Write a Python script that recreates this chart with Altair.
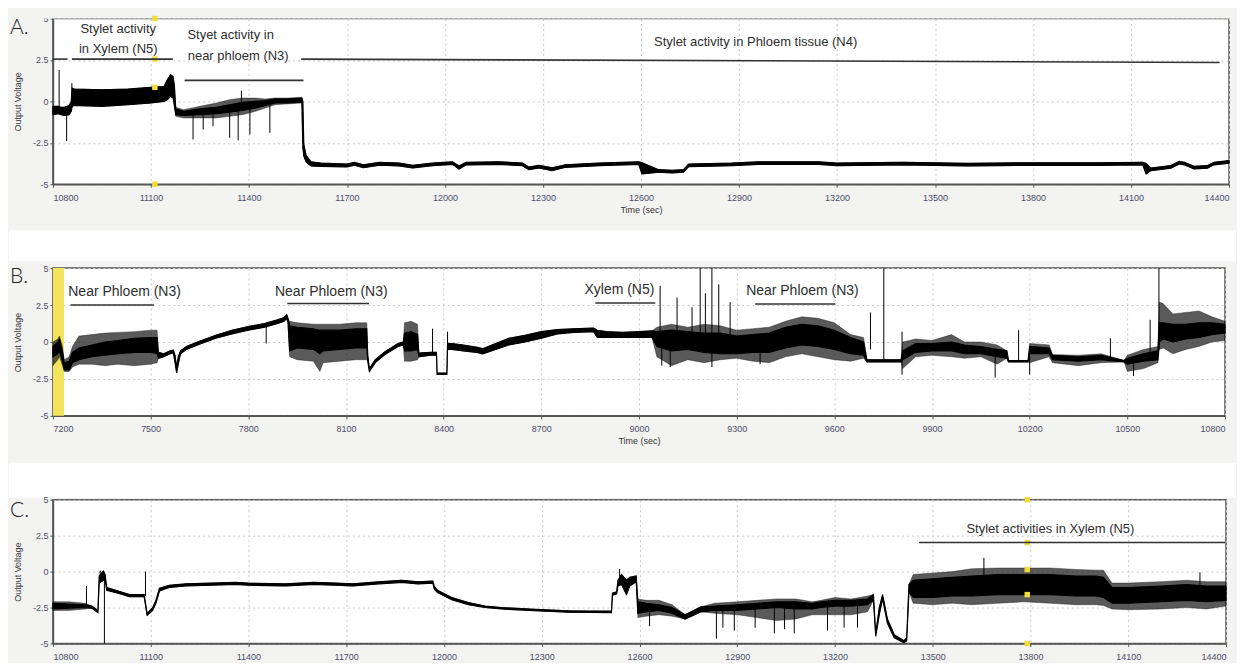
import altair as alt
import pandas as pd

FONT = "Liberation Sans"
BG = "#f3f3f2"

# ---------------- Panel A (10800-14400 s) ----------------
a_t = [10800, 10815, 10825, 10835, 10850, 10856, 10859, 10865, 10950, 11030,
       11100, 11140, 11150, 11160, 11168, 11172, 11176, 11200, 11250, 11300,
       11340, 11380, 11420, 11450, 11480, 11520, 11562, 11565, 11568, 11575,
       11590, 11620, 11700, 11723, 11750, 11800, 11860, 11901, 11962, 12023,
       12043, 12064, 12165, 12237, 12257, 12288, 12328, 12369, 12471, 12593,
       12603, 12654, 12695, 12730, 12746, 12878, 12959, 13143, 13200, 13400,
       13600, 13800, 14000, 14136, 14146, 14161, 14222, 14248, 14263, 14293,
       14334, 14354, 14400]
a_lo = [-0.8, -0.75, -0.8, -0.85, -0.8, -0.6, -0.3, -0.25, -0.3, -0.2,
        -0.1, 0.0, 0.1, 0.3, 0.2, -0.3, -0.9, -1.0, -1.0, -1.0,
        -0.9, -0.8, -0.6, -0.4, -0.2, -0.15, -0.1, -2.8, -3.3, -3.65,
        -3.9, -3.92, -3.95, -3.85, -4.0, -3.85, -3.9, -4.02, -3.88, -3.8,
        -4.08, -3.84, -3.8, -3.88, -4.12, -4.02, -4.18, -3.98, -3.88, -3.8,
        -4.38, -4.28, -4.32, -4.28, -3.94, -3.88, -3.8, -3.8, -3.88, -3.83,
        -3.9, -3.86, -3.86, -3.83, -4.38, -4.18, -4.03, -3.78, -3.83, -4.08,
        -4.03, -3.83, -3.73]
a_hi = [-0.3, -0.3, -0.35, -0.35, -0.25, 0.0, 0.8, 0.75, 0.7, 0.75,
        0.85, 0.9, 1.3, 1.6, 1.5, 0.9, -0.35, -0.5, -0.3, -0.1,
        0.1, 0.2, 0.2, 0.15, 0.2, 0.2, 0.25, 0.0, -2.6, -3.25,
        -3.65, -3.72, -3.78, -3.68, -3.82, -3.68, -3.72, -3.86, -3.72, -3.64,
        -3.9, -3.68, -3.64, -3.72, -3.96, -3.86, -4.0, -3.82, -3.72, -3.64,
        -3.7, -4.12, -4.16, -4.12, -3.78, -3.72, -3.64, -3.64, -3.72, -3.67,
        -3.74, -3.7, -3.7, -3.67, -3.75, -4.02, -3.87, -3.62, -3.67, -3.92,
        -3.87, -3.67, -3.57]
a_clo = [-0.8, -0.75, -0.8, -0.85, -0.8, -0.6, -0.3, -0.25, -0.3, -0.2,
         -0.1, 0.0, 0.1, 0.3, 0.2, -0.3, -0.8, -0.85, -0.8, -0.75,
         -0.65, -0.55, -0.4, -0.25, -0.1, -0.1, -0.05, -2.8, -3.3, -3.65,
         -3.9, -3.92, -3.95, -3.85, -4.0, -3.85, -3.9, -4.02, -3.88, -3.8,
         -4.08, -3.84, -3.8, -3.88, -4.12, -4.02, -4.18, -3.98, -3.88, -3.8,
         -4.38, -4.28, -4.32, -4.28, -3.94, -3.88, -3.8, -3.8, -3.88, -3.83,
         -3.9, -3.86, -3.86, -3.83, -4.38, -4.18, -4.03, -3.78, -3.83, -4.08,
         -4.03, -3.83, -3.73]
a_chi = [-0.3, -0.3, -0.35, -0.35, -0.25, 0.0, 0.8, 0.75, 0.7, 0.75,
         0.85, 0.9, 1.3, 1.6, 1.5, 0.9, -0.45, -0.6, -0.45, -0.35,
         -0.2, -0.05, 0.0, 0.05, 0.15, 0.15, 0.2, 0.0, -2.6, -3.25,
         -3.65, -3.72, -3.78, -3.68, -3.82, -3.68, -3.72, -3.86, -3.72, -3.64,
         -3.9, -3.68, -3.64, -3.72, -3.96, -3.86, -4.0, -3.82, -3.72, -3.64,
         -3.7, -4.12, -4.16, -4.12, -3.78, -3.72, -3.64, -3.64, -3.72, -3.67,
         -3.74, -3.7, -3.7, -3.67, -3.75, -4.02, -3.87, -3.62, -3.67, -3.92,
         -3.87, -3.67, -3.57]
a_sp_t = [10819, 10842, 10858, 11229, 11260, 11290, 11341, 11367, 11377, 11403, 11464]
a_sp_lo = [-0.5, -2.4, -0.3, -2.3, -1.7, -1.5, -2.2, -2.35, -0.2, -2.0, -1.9]
a_sp_hi = [1.9, -0.4, 1.1, -0.6, -0.5, -0.4, -0.3, -0.2, 0.65, -0.1, 0.0]
a_seg_t1 = [10800, 10858, 11203, 11560]
a_seg_t2 = [10845, 11167, 11567, 14371]
a_seg_v1 = [2.55, 2.55, 1.27, 2.55]
a_seg_v2 = [2.55, 2.55, 1.27, 2.35]
a_txt = ["Stylet activity", "in Xylem (N5)", "Styet activity in", "near phloem (N3)",
         "Stylet activity in Phloem tissue (N4)"]
a_txt_t = [11000, 11000, 11344, 11367, 12951]
a_txt_v = [4.35, 3.15, 4.02, 2.71, 3.61]
a_cur_t = [11112, 11112, 11112, 11112]
a_cur_v = [5, 2.55, 0.85, -5]

# ---------------- Panel B (7200-10800 s) ----------------
b_t = [7200, 7215, 7220, 7228, 7235, 7250, 7260, 7280, 7320, 7360,
       7400, 7450, 7500, 7520, 7524, 7540, 7560, 7570, 7575, 7580,
       7585, 7592, 7610, 7650, 7700, 7750, 7800, 7850, 7890, 7910,
       7918, 7922, 7927, 7950, 8000, 8020, 8030, 8080, 8130, 8164,
       8167, 8172, 8190, 8220, 8260, 8276, 8280, 8300, 8320, 8324,
       8360, 8378, 8380, 8410, 8412, 8425, 8460, 8500, 8520, 8560,
       8600, 8650, 8700, 8750, 8800, 8860, 8872, 8900, 8950, 9000,
       9040, 9055, 9100, 9150, 9200, 9250, 9300, 9350, 9400, 9450,
       9500, 9550, 9600, 9650, 9690, 9700, 9805, 9810, 9850, 9900,
       9960, 10000, 10050, 10100, 10130, 10135, 10195, 10200, 10260, 10270,
       10350, 10420, 10490, 10500, 10550, 10594, 10598, 10610, 10640, 10680,
       10720, 10760, 10800]
b_lo = [-1.6, -1.2, -1.0, -1.5, -2.0, -2.0, -1.7, -1.5, -1.5, -1.6,
        -1.5, -1.6, -1.5, -1.4, -1.1, -1.0, -0.8, -0.75, -1.4, -2.1,
        -1.5, -0.8, -0.5, -0.15, 0.25, 0.55, 0.8, 1.0, 1.25, 1.4,
        1.6, 1.3, -1.0, -1.2, -1.3, -2.0, -1.4, -1.3, -1.2, -1.2,
        -1.3, -2.0, -1.4, -0.85, -0.3, -0.2, -1.3, -1.3, -1.2, -1.0,
        -0.9, -0.9, -2.2, -2.2, -0.5, -0.5, -0.6, -0.7, -0.8, -0.5,
        -0.2, 0.0, 0.25, 0.55, 0.65, 0.7, 0.3, 0.3, 0.3, 0.3,
        0.3, -1.0, -1.6, -1.2, -1.4, -1.2, -1.1, -1.3, -1.4, -1.0,
        -0.8, -1.0, -1.2, -1.3, -1.1, -1.35, -1.35, -1.8, -1.0, -0.9,
        -1.0, -1.1, -1.0, -1.5, -1.1, -1.35, -1.35, -1.4, -1.0, -1.4,
        -1.6, -1.4, -1.35, -2.0, -1.8, -1.4, -0.5, -0.4, -0.8, -0.5,
        -0.3, 0.0, 0.1]
b_hi = [0.0, 0.2, 0.4, -0.2, -1.2, -1.0, -0.3, 0.4, 0.5, 0.6,
        0.65, 0.7, 0.8, 0.8, -0.7, -0.8, -0.6, -0.55, -0.9, -1.7,
        -1.0, -0.6, -0.3, 0.05, 0.45, 0.8, 1.05, 1.25, 1.5, 1.65,
        1.85, 1.6, 1.4, 1.3, 1.2, 1.2, 1.2, 1.2, 1.3, 1.3,
        -0.9, -1.8, -1.2, -0.65, -0.1, 0.0, 1.3, 1.4, 1.2, -0.75,
        -0.7, -0.7, -2.1, -2.1, -0.1, -0.1, -0.2, -0.35, -0.45, -0.1,
        0.25, 0.45, 0.7, 0.85, 0.9, 0.95, 0.8, 0.7, 0.65, 0.7,
        0.75, 1.0, 1.2, 1.0, 1.2, 1.1, 0.8, 0.9, 1.0, 1.4,
        1.7, 1.6, 1.3, 0.5, 0.3, -1.2, -1.2, 0.0, 0.2, 0.1,
        0.5, 0.0, 0.0, -0.2, -0.6, -1.25, -1.25, -0.1, -0.2, -0.85,
        -0.9, -0.8, -1.25, -0.9, -0.5, -0.3, 2.7, 2.6, 1.9, 2.0,
        2.1, 1.7, 1.4]
b_clo = [-1.0, -0.8, -0.6, -1.2, -1.9, -1.9, -1.4, -1.2, -1.0, -0.9,
         -0.8, -0.7, -0.7, -0.8, -1.1, -1.0, -0.8, -0.75, -1.4, -2.1,
         -1.5, -0.8, -0.5, -0.15, 0.25, 0.55, 0.8, 1.0, 1.25, 1.4,
         1.6, 1.3, -0.6, -0.4, -0.5, -0.8, -0.6, -0.5, -0.4, -0.4,
         -1.3, -2.0, -1.4, -0.85, -0.3, -0.2, -0.6, -0.6, -0.5, -1.0,
         -0.9, -0.9, -2.2, -2.2, -0.5, -0.5, -0.6, -0.7, -0.8, -0.5,
         -0.2, 0.0, 0.25, 0.55, 0.65, 0.7, 0.3, 0.3, 0.3, 0.3,
         0.3, -0.3, -0.6, -0.5, -0.7, -0.8, -0.8, -0.7, -0.7, -0.4,
         -0.2, -0.3, -0.5, -0.8, -0.9, -1.35, -1.35, -1.2, -0.7, -0.6,
         -0.6, -0.8, -0.8, -1.0, -1.1, -1.35, -1.35, -0.8, -0.8, -1.2,
         -1.3, -1.2, -1.35, -1.5, -1.3, -1.2, 0.0, 0.2, 0.0, 0.2,
         0.3, 0.5, 0.6]
b_chi = [-0.3, 0.0, 0.2, -0.5, -1.4, -1.3, -0.7, -0.4, -0.2, 0.0,
         0.1, 0.25, 0.3, 0.3, -0.7, -0.8, -0.6, -0.55, -0.9, -1.7,
         -1.0, -0.6, -0.3, 0.05, 0.45, 0.8, 1.05, 1.25, 1.5, 1.65,
         1.85, 1.6, 1.1, 1.0, 0.9, 0.8, 0.8, 0.8, 0.9, 0.9,
         -0.9, -1.8, -1.2, -0.65, -0.1, 0.0, 0.6, 0.7, 0.5, -0.75,
         -0.7, -0.7, -2.1, -2.1, -0.1, -0.1, -0.2, -0.35, -0.45, -0.1,
         0.25, 0.45, 0.7, 0.85, 0.9, 0.95, 0.8, 0.7, 0.65, 0.7,
         0.75, 0.7, 0.8, 0.7, 0.6, 0.6, 0.4, 0.5, 0.6, 1.0,
         1.2, 1.1, 0.8, 0.3, 0.0, -1.2, -1.2, -0.6, -0.1, -0.1,
         0.0, -0.2, -0.3, -0.5, -0.6, -1.25, -1.25, -0.3, -0.4, -0.9,
         -1.0, -0.9, -1.25, -1.1, -0.8, -0.6, 1.3, 1.3, 1.2, 1.2,
         1.3, 1.3, 1.2]
b_sp_t = [7855, 8366, 8412, 9065, 9070, 9096, 9117, 9163, 9188, 9204,
          9224, 9245, 9280, 9372, 9711, 9752, 9808, 10094, 10166, 10200,
          10448, 10519, 10570, 10597]
b_sp_lo = [-0.1, -0.8, -0.1, 0.5, -1.6, -1.7, 0.5, 0.5, 0.0, 0.5,
           -1.7, 0.5, 0.5, -1.5, -0.5, -1.3, -2.2, -2.4, -1.3, -2.2,
           -1.3, -2.3, -1.0, -0.5]
b_sp_hi = [1.1, 0.9, 0.7, 3.8, 0.0, 0.0, 3.0, 2.35, 5.0, 3.3,
           5.0, 3.9, 2.7, 0.0, 2.0, 5.0, 0.7, -0.8, 0.8, -1.0,
           0.25, -1.3, 1.5, 5.0]
b_seg_t1 = [7254, 7920, 8866, 9357]
b_seg_t2 = [7510, 8171, 9050, 9603]
b_seg_v1 = [2.5, 2.6, 2.64, 2.57]
b_seg_v2 = [2.5, 2.6, 2.64, 2.57]
b_txt = ["Near Phloem (N3)", "Near Phloem (N3)", "Xylem (N5)", "Near Phloem (N3)"]
b_txt_t = [7420, 8055, 8940, 9502]
b_txt_v = [3.39, 3.39, 3.5, 3.46]
b_band_t = [7200]
b_band_t2 = [7234]

# ---------------- Panel C (10800-14400 s) ----------------
c_t = [10800, 10850, 10900, 10920, 10938, 10942, 10955, 10960, 10965, 11000,
       11035, 11080, 11089, 11106, 11116, 11127, 11157, 11208, 11360, 11400,
       11514, 11600, 11667, 11720, 11800, 11871, 11920, 11966, 11970, 11980,
       12024, 12075, 12126, 12177, 12279, 12381, 12514, 12517, 12530, 12534,
       12545, 12560, 12570, 12590, 12595, 12620, 12660, 12700, 12740, 12789,
       12830, 12900, 12960, 13020, 13080, 13130, 13157, 13200, 13250, 13300,
       13318, 13325, 13336, 13346, 13361, 13382, 13412, 13420, 13427, 13440,
       13500, 13560, 13620, 13700, 13780, 13860, 13940, 14000, 14024, 14050,
       14100, 14200, 14280, 14340, 14400]
c_lo = [-2.7, -2.7, -2.6, -2.55, -2.85, -0.8, -0.6, -0.5, -1.3, -1.5,
        -1.75, -1.75, -3.05, -2.7, -2.2, -1.35, -1.1, -1.0, -0.9, -0.95,
        -1.0, -0.9, -0.95, -1.0, -0.85, -0.75, -0.85, -0.8, -1.2, -1.45,
        -1.95, -2.3, -2.5, -2.6, -2.72, -2.82, -2.85, -1.65, -1.55, -1.0,
        -0.9, -1.6, -1.0, -0.7, -3.2, -3.1, -3.0, -3.1, -3.3, -2.8,
        -2.9, -3.0, -3.2, -3.4, -3.3, -3.0, -3.0, -3.0, -3.0, -2.8,
        -2.0, -4.5, -3.0, -1.9, -3.6, -4.6, -4.95, -4.8, -1.4, -2.2,
        -2.3, -2.2, -2.3, -2.2, -2.1, -2.2, -2.3, -2.3, -2.35, -2.6,
        -2.65, -2.6, -2.5, -2.6, -2.4]
c_hi = [-2.1, -2.1, -2.2, -2.4, -2.7, -0.3, 0.05, -0.2, -1.1, -1.35,
        -1.6, -1.6, -2.9, -2.5, -2.0, -1.15, -0.95, -0.85, -0.75, -0.8,
        -0.85, -0.75, -0.8, -0.85, -0.7, -0.6, -0.7, -0.65, -1.0, -1.3,
        -1.8, -2.15, -2.4, -2.5, -2.62, -2.72, -2.75, -1.5, -1.4, -0.6,
        -0.2, -0.6, -0.4, -0.3, -1.9, -2.0, -2.0, -2.3, -3.0, -2.45,
        -2.2, -2.1, -2.0, -1.9, -1.9, -2.1, -2.0, -1.8, -1.9, -1.7,
        -1.6, -4.3, -2.5, -1.6, -3.3, -4.4, -4.8, -4.6, -0.9, -0.2,
        -0.1, 0.0, 0.2, 0.25, 0.25, 0.25, 0.15, 0.1, 0.1, -0.8,
        -0.8, -0.7, -0.6, -0.7, -0.7]
c_clo = [-2.6, -2.55, -2.5, -2.55, -2.85, -0.8, -0.6, -0.5, -1.3, -1.5,
         -1.75, -1.75, -3.05, -2.7, -2.2, -1.35, -1.1, -1.0, -0.9, -0.95,
         -1.0, -0.9, -0.95, -1.0, -0.85, -0.75, -0.85, -0.8, -1.2, -1.45,
         -1.95, -2.3, -2.5, -2.6, -2.72, -2.82, -2.85, -1.65, -1.55, -1.0,
         -0.9, -1.6, -1.0, -0.7, -2.9, -2.8, -2.7, -2.9, -3.3, -2.8,
         -2.7, -2.7, -2.6, -2.5, -2.6, -2.6, -2.5, -2.4, -2.4, -2.3,
         -2.0, -4.5, -3.0, -1.9, -3.6, -4.6, -4.95, -4.8, -1.4, -1.8,
         -1.8, -1.7, -1.7, -1.6, -1.6, -1.6, -1.7, -1.7, -1.8, -2.2,
         -2.2, -2.1, -2.0, -2.1, -2.0]
c_chi = [-2.2, -2.25, -2.3, -2.4, -2.7, -0.3, 0.05, -0.2, -1.1, -1.35,
         -1.6, -1.6, -2.9, -2.5, -2.0, -1.15, -0.95, -0.85, -0.75, -0.8,
         -0.85, -0.75, -0.8, -0.85, -0.7, -0.6, -0.7, -0.65, -1.0, -1.3,
         -1.8, -2.15, -2.4, -2.5, -2.62, -2.72, -2.75, -1.5, -1.4, -0.6,
         -0.2, -0.6, -0.4, -0.3, -2.1, -2.2, -2.3, -2.5, -3.0, -2.45,
         -2.4, -2.3, -2.2, -2.1, -2.1, -2.2, -2.1, -2.0, -2.0, -1.9,
         -1.6, -4.3, -2.5, -1.6, -3.3, -4.4, -4.8, -4.6, -0.9, -0.6,
         -0.5, -0.4, -0.3, -0.2, -0.2, -0.2, -0.3, -0.3, -0.4, -1.1,
         -1.1, -1.0, -0.9, -1.0, -1.0]
c_sp_t = [10903, 10945, 10958, 11084, 12539, 12631, 12836, 12856, 12891, 12955,
          13014, 13045, 13075, 13177, 13228, 13269, 13657, 14320]
c_sp_lo = [-2.4, -0.8, -5.0, -1.7, -0.9, -3.8, -4.67, -3.9, -4.1, -3.9,
           -4.3, -4.0, -4.3, -4.1, -3.9, -3.9, -0.5, -1.2]
c_sp_hi = [-1.0, 0.08, -0.5, 0.0, 0.19, -2.5, -2.5, -2.5, -2.5, -2.3,
           -2.2, -2.2, -2.2, -2.2, -2.1, -2.1, 0.96, -0.05]
c_seg_t1 = [13458]
c_seg_t2 = [14397]
c_seg_v1 = [2.02]
c_seg_v2 = [2.02]
c_txt = ["Stylet activities in Xylem (N5)"]
c_txt_t = [13861]
c_txt_v = [2.95]
c_cur_t = [13790, 13790, 13790, 13790, 13790]
c_cur_v = [5, 2.02, 0.15, -1.6, -5]

y_ticks = [-5, -2.5, 0, 2.5, 5]
STRIP_X2 = 1185


def xenc(field, dom, xtitle):
    ax = alt.Axis(values=list(range(dom[0], dom[1] + 1, 300)), format="d",
                  labelFontSize=9, labelColor="#4d4d66", labelFont=FONT,
                  tickSize=3, tickColor="#555555", domainColor="#555555", domainWidth=1.5,
                  gridColor="#c9c9c9", gridDash=[2, 3], labelPadding=6,
                  titleFontSize=9, titleFontWeight="normal", titleColor="#333333",
                  titleFont=FONT, titlePadding=3)
    return alt.X(field, type="quantitative", scale=alt.Scale(domain=dom, nice=False, zero=False),
                 axis=ax, title=xtitle)


def yenc(field):
    ax = alt.Axis(values=y_ticks, labelExpr="datum.value + ''",
                  labelFontSize=9, labelColor="#4d4d66", labelFont=FONT,
                  tickSize=3, tickColor="#555555", domainColor="#555555", domainWidth=1.5,
                  gridColor="#c9c9c9", gridDash=[2, 3], labelPadding=2,
                  titleFontSize=9, titleFontWeight="normal", titleColor="#333333",
                  titleFont=FONT, titlePadding=10)
    return alt.Y(field, type="quantitative", scale=alt.Scale(domain=[-5, 5], nice=False, zero=False),
                 axis=ax, title="Output Voltage")


def strip(y1, y2, color):
    return alt.Chart(alt.Data(values=[{"k": 1}])).mark_rect(color=color).encode(
        x=alt.value(-44), x2=alt.value(STRIP_X2), y=alt.value(y1), y2=alt.value(y2))


def panel(label, label_y, dom, xtitle, w, h, t, lo, hi, clo, chi,
          sp_t, sp_lo, sp_hi, s1, s2, v1, v2, txt, tt, tv, fsize,
          cur_t, cur_v, strips, band=None):
    layers = []
    for (y1, y2, col) in strips:
        layers.append(strip(y1, y2, col))
    if band is not None:
        bd = pd.DataFrame({"t": band[0], "t2": band[1], "lo": [-5], "hi": [5]})
        layers.append(alt.Chart(bd).mark_rect(color="#f2e45c").encode(
            x=xenc("t", dom, xtitle), x2="t2", y=yenc("lo"), y2="hi"))
    df = pd.DataFrame({"t": t, "lo": lo, "hi": hi, "clo": clo, "chi": chi})
    layers.append(alt.Chart(df).mark_area(fill="#1a1a1a", fillOpacity=0.72, stroke="#1a1a1a",
                                          strokeWidth=0.6, strokeOpacity=0.7).encode(
        x=xenc("t", dom, xtitle), y=yenc("lo"), y2="hi"))
    layers.append(alt.Chart(df).mark_area(fill="black", stroke="black", strokeWidth=1.1).encode(
        x=xenc("t", dom, xtitle), y=yenc("clo"), y2="chi"))
    sp = pd.DataFrame({"t": sp_t, "lo": sp_lo, "hi": sp_hi})
    layers.append(alt.Chart(sp).mark_rule(color="black", strokeWidth=1).encode(
        x=xenc("t", dom, xtitle), y=yenc("lo"), y2="hi"))
    if cur_t:
        cd = pd.DataFrame({"t": cur_t, "v": cur_v})
        layers.append(alt.Chart(cd).mark_point(shape="square", filled=True, size=30,
                                               color="#f0dc3c", opacity=1).encode(
            x=xenc("t", dom, xtitle), y=yenc("v")))
    sg = pd.DataFrame({"t": s1, "t2": s2, "v": v1, "v2": v2})
    layers.append(alt.Chart(sg).mark_rule(color="#333333", strokeWidth=1.6).encode(
        x=xenc("t", dom, xtitle), x2="t2", y=yenc("v"), y2="v2"))
    td = pd.DataFrame({"t": tt, "v": tv, "s": txt})
    layers.append(alt.Chart(td).mark_text(font=FONT, fontSize=fsize, color="#2e2e2e").encode(
        x=xenc("t", dom, xtitle), y=yenc("v"), text="s:N"))
    layers.append(alt.Chart(alt.Data(values=[{"s": label}])).mark_text(
        font="Lato", fontSize=21, fontWeight=300, align="left", baseline="alphabetic",
        color="#222222").encode(x=alt.value(-43), y=alt.value(label_y), text="s:N"))
    return alt.layer(*layers).properties(width=w, height=h)


A = panel("A.", 16, [10800, 14400], "Time (sec)", 1178, 166,
          a_t, a_lo, a_hi, a_clo, a_chi, a_sp_t, a_sp_lo, a_sp_hi,
          a_seg_t1, a_seg_t2, a_seg_v1, a_seg_v2, a_txt, a_txt_t, a_txt_v, 13,
          a_cur_t, a_cur_v, [(-9, 0, BG), (212, 243, "white")])
B = panel("B.", 15, [7200, 10800], "Time (sec)", 1174, 148,
          b_t, b_lo, b_hi, b_clo, b_chi, b_sp_t, b_sp_lo, b_sp_hi,
          b_seg_t1, b_seg_t2, b_seg_v1, b_seg_v2, b_txt, b_txt_t, b_txt_v, 14,
          [], [], [(195, 230, "white")], band=(b_band_t, b_band_t2))
C = panel("C.", 17, [10800, 14400], None, 1175, 144,
          c_t, c_lo, c_hi, c_clo, c_chi, c_sp_t, c_sp_lo, c_sp_hi,
          c_seg_t1, c_seg_t2, c_seg_v1, c_seg_v2, c_txt, c_txt_t, c_txt_v, 13,
          c_cur_t, c_cur_v, [])

chart = alt.vconcat(A, B, C, spacing=84, bounds="flush", padding=0,
                    background=BG).configure_view(stroke="#555555", strokeWidth=1.5, fill="white")

chart.save("out.html", embed_options={"renderer": "svg", "actions": False})
